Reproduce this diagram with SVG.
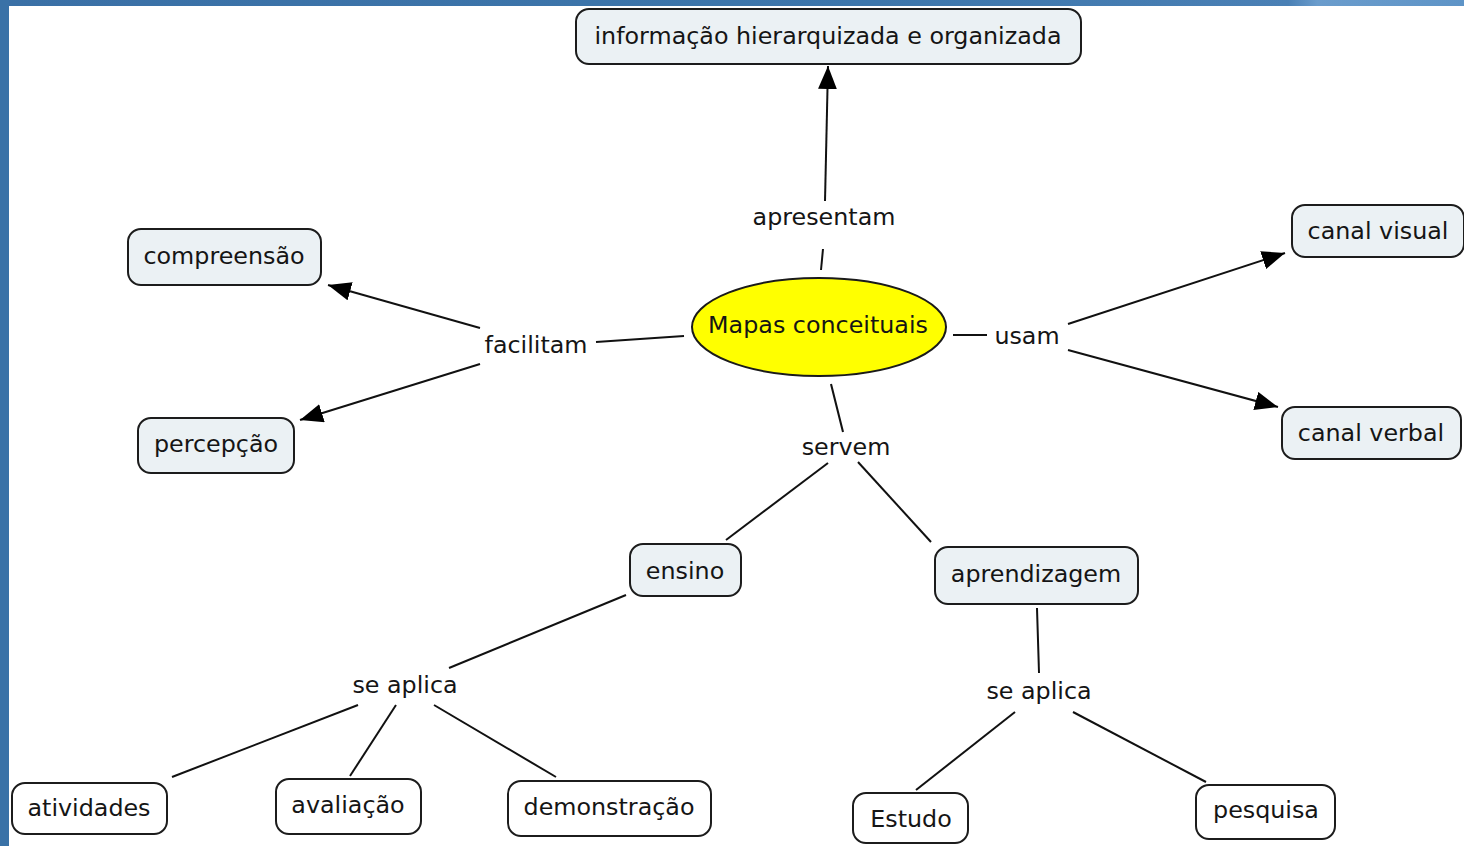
<svg xmlns="http://www.w3.org/2000/svg" width="1464" height="846" viewBox="0 0 1464 846">
<defs>
<linearGradient id="topbar" x1="0" y1="0" x2="1" y2="0">
<stop offset="0" stop-color="#3a70a6"/>
<stop offset="0.6" stop-color="#3d76ab"/>
<stop offset="0.88" stop-color="#4a80b5"/>
<stop offset="0.9" stop-color="#6a9ccc"/>
<stop offset="1" stop-color="#5e94c7"/>
</linearGradient>
<marker id="arr" viewBox="0 0 22 18" refX="22" refY="9" markerWidth="23" markerHeight="19" markerUnits="userSpaceOnUse" orient="auto">
<path d="M0,0 L22,9 L0,18 Z" fill="#000"/>
</marker>
<style>
.box{fill:#ebf1f4;stroke:#1c1c1c;stroke-width:2}
.wbox{fill:#ffffff;stroke:#1c1c1c;stroke-width:2}
.t{font-family:"DejaVu Sans","Verdana",sans-serif;font-size:23.8px;fill:#151515;text-anchor:middle;dominant-baseline:central}
.ln{stroke:#111;stroke-width:2;fill:none}
.ar{stroke:#111;stroke-width:2;fill:none;marker-end:url(#arr)}
</style>
</defs>
<rect x="0" y="0" width="1464" height="846" fill="#ffffff"/>
<rect x="0" y="0" width="1464" height="6" fill="url(#topbar)"/>
<rect x="0" y="0" width="9" height="846" fill="#3a72a7"/>

<g id="connectors">
<line class="ln" x1="821" y1="270" x2="823" y2="249"/>
<line class="ar" x1="825" y1="201" x2="828" y2="66"/>
<line class="ln" x1="596" y1="342" x2="684" y2="336"/>
<line class="ar" x1="480" y1="328" x2="328" y2="285"/>
<line class="ar" x1="480" y1="364" x2="300" y2="420"/>
<line class="ln" x1="953" y1="335" x2="987" y2="335"/>
<line class="ar" x1="1068" y1="324" x2="1285" y2="253"/>
<line class="ar" x1="1068" y1="350" x2="1278" y2="407"/>
<line class="ln" x1="831" y1="384" x2="843" y2="432"/>
<line class="ln" x1="828" y1="463" x2="726" y2="540"/>
<line class="ln" x1="858" y1="462" x2="931" y2="542"/>
<line class="ln" x1="626" y1="595" x2="449" y2="668"/>
<line class="ln" x1="358" y1="705" x2="172" y2="777"/>
<line class="ln" x1="396" y1="705" x2="350" y2="776"/>
<line class="ln" x1="434" y1="705" x2="556" y2="777"/>
<line class="ln" x1="1037" y1="608" x2="1039" y2="673"/>
<line class="ln" x1="1015" y1="712" x2="916" y2="790"/>
<line class="ln" x1="1073" y1="712" x2="1206" y2="782"/>
</g>

<g id="labels">
<text class="t" x="824" y="217">apresentam</text>
<text class="t" x="536" y="345">facilitam</text>
<text class="t" x="1027" y="336">usam</text>
<text class="t" x="846" y="447">servem</text>
<text class="t" x="405" y="685">se aplica</text>
<text class="t" x="1039" y="691">se aplica</text>
</g>

<g id="n-info"><rect class="box" x="576" y="9" width="505" height="55" rx="13"/><text class="t" x="828" y="36">informação hierarquizada e organizada</text></g>
<g id="n-mapas"><ellipse cx="819" cy="327" rx="127" ry="49" fill="#ffff00" stroke="#1a1a1a" stroke-width="2"/><text class="t" x="818" y="325">Mapas conceituais</text></g>
<g id="n-compreensao"><rect class="box" x="128" y="229" width="193" height="56" rx="13"/><text class="t" x="224" y="256">compreensão</text></g>
<g id="n-percepcao"><rect class="box" x="138" y="418" width="156" height="55" rx="13"/><text class="t" x="216" y="444">percepção</text></g>
<g id="n-visual"><rect class="box" x="1292" y="205" width="172" height="52" rx="13"/><text class="t" x="1378" y="231">canal visual</text></g>
<g id="n-verbal"><rect class="box" x="1282" y="407" width="179" height="52" rx="13"/><text class="t" x="1371" y="433">canal verbal</text></g>
<g id="n-ensino"><rect class="box" x="630" y="544" width="111" height="52" rx="13"/><text class="t" x="685" y="571">ensino</text></g>
<g id="n-aprendizagem"><rect class="box" x="935" y="547" width="203" height="57" rx="13"/><text class="t" x="1036" y="574">aprendizagem</text></g>
<g id="n-atividades"><rect class="wbox" x="12" y="783" width="155" height="51" rx="13"/><text class="t" x="89" y="808">atividades</text></g>
<g id="n-avaliacao"><rect class="wbox" x="276" y="779" width="145" height="55" rx="13"/><text class="t" x="348" y="805">avaliação</text></g>
<g id="n-demonstracao"><rect class="wbox" x="508" y="781" width="203" height="55" rx="13"/><text class="t" x="609" y="807">demonstração</text></g>
<g id="n-estudo"><rect class="wbox" x="853" y="793" width="115" height="50" rx="13"/><text class="t" x="911" y="819">Estudo</text></g>
<g id="n-pesquisa"><rect class="wbox" x="1196" y="785" width="139" height="54" rx="13"/><text class="t" x="1266" y="810">pesquisa</text></g>
</svg>
